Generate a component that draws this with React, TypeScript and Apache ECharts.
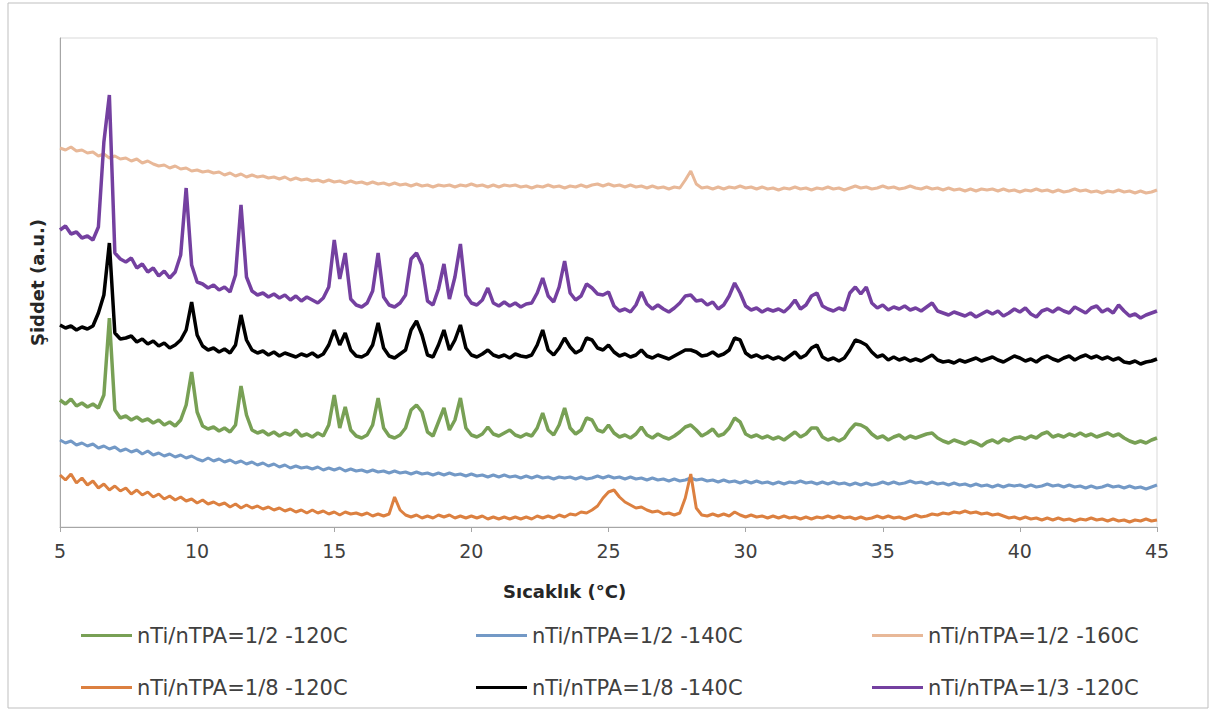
import React, { useEffect, useRef } from 'react';
import * as echarts from 'echarts';

// 2θ scan: starts at 5°, one reading every 0.2°, up to 45°
const scanStart = 5;
const scanStep = 0.2;

const seriesNames = [
  'nTi/nTPA=1/2 -120C',
  'nTi/nTPA=1/2 -140C',
  'nTi/nTPA=1/2 -160C',
  'nTi/nTPA=1/8 -120C',
  'nTi/nTPA=1/8 -140C',
  'nTi/nTPA=1/3 -120C',
];

// intensities (a.u.), one value per scan step
const ti12_120C = [
  127,123,128,121,124, 120,123,119,132,209,
  117,109,111,107,110, 106,108,104,107,102,
  105,101,107,122,155, 115,101,98,100,96,
  99,95,102,141,112, 97,94,96,92,95,
  91,94,92,97,91, 93,90,94,91,102,
  132,99,120,97,91, 89,92,102,129,99,
  91,89,92,99,117, 122,115,95,91,105,
  119,97,107,129,99, 92,90,93,100,93,
  91,94,97,92,90, 93,91,99,114,97,
  92,102,119,99,93, 97,109,107,97,95,
  102,94,90,92,89, 93,100,92,89,93,
  90,88,91,95,100, 102,97,91,94,98,
  91,93,99,109,105, 93,90,92,89,91,
  88,90,87,91,95, 90,93,99,99,90,
  87,89,86,89,97, 103,102,99,93,89,
  91,87,90,92,88, 91,89,91,93,94,
  89,86,84,87,85, 83,86,84,81,85,
  87,84,88,86,89, 90,88,91,89,93,
  95,90,92,90,93, 91,94,91,93,90,
  92,94,91,93,89, 86,84,86,84,87,
  89,
];

const ti12_140C = [
  87,84,86,82,84, 81,83,79,81,78,
  80,76,78,75,77, 73,76,72,74,71,
  73,70,72,69,71, 68,66,69,66,68,
  65,67,64,66,63, 65,62,64,61,63,
  60,62,59,61,59, 60,58,60,57,59,
  57,59,56,58,56, 57,55,57,55,56,
  54,56,54,55,53, 55,53,54,52,54,
  52,54,52,53,51, 53,51,52,50,52,
  50,52,50,51,49, 51,49,51,49,50,
  48,50,49,50,48, 50,48,49,51,49,
  51,49,50,48,50, 48,49,47,49,47,
  48,46,48,46,47, 49,47,48,46,47,
  45,47,45,46,44, 46,44,46,44,45,
  43,45,43,45,44, 46,44,45,43,45,
  43,45,43,44,42, 44,42,44,42,43,
  45,43,45,43,44, 46,44,45,43,45,
  43,44,42,44,42, 43,41,43,41,42,
  40,42,40,42,41, 42,40,42,40,41,
  43,41,42,40,42, 40,41,39,41,39,
  40,42,40,41,39, 41,39,40,38,40,
  42,
];

const ti12_160C = [
  379,377,380,376,377, 374,375,371,373,369,
  371,368,369,366,368, 364,366,363,361,362,
  359,361,358,359,356, 357,355,356,354,355,
  352,354,351,353,350, 352,350,351,349,350,
  348,350,347,349,347, 348,346,347,345,347,
  345,346,344,346,344, 345,343,345,343,344,
  342,344,342,343,341, 343,341,342,340,342,
  341,342,340,342,341, 343,341,342,340,342,
  340,342,341,342,340, 341,339,341,340,342,
  340,341,339,341,340, 342,340,342,343,341,
  343,341,342,340,342, 340,341,339,341,339,
  340,338,340,339,347, 356,343,339,340,338,
  340,338,340,339,341, 339,340,338,340,338,
  339,337,339,338,340, 338,339,337,339,338,
  340,338,339,337,339, 341,339,340,338,339,
  341,339,340,338,339, 341,339,338,340,338,
  339,337,339,337,338, 336,338,336,338,337,
  338,336,338,336,337, 335,337,336,338,336,
  337,335,337,335,336, 338,336,337,335,336,
  334,336,335,337,335, 336,334,336,334,335,
  337,
];

const ti18_120C = [
  52,47,53,44,49, 42,46,39,43,37,
  41,36,39,33,37, 32,35,30,33,28,
  31,27,30,26,28, 24,27,23,25,22,
  24,20,23,19,22, 19,21,18,20,17,
  19,16,18,15,17, 14,17,14,16,13,
  15,12,15,13,14, 12,14,11,13,11,
  13,30,17,12,10, 12,9,11,9,12,
  10,12,9,11,9, 11,9,11,8,10,
  8,10,8,10,8, 10,8,11,9,11,
  9,12,10,13,12, 15,14,17,21,29,
  35,37,30,25,22, 19,20,17,15,16,
  13,14,12,14,29, 53,19,12,11,13,
  11,13,11,15,12, 10,12,10,11,9,
  11,9,11,9,10, 8,10,8,10,9,
  11,9,11,9,10, 8,10,8,9,11,
  9,11,9,10,8, 10,12,10,11,13,
  12,14,13,15,14, 16,14,15,13,14,
  12,13,11,9,10, 8,10,8,9,7,
  9,7,9,7,8, 6,8,7,9,7,
  8,6,8,6,7, 5,7,6,8,6,
  7,
];

const ti18_140C = [
  202,199,201,197,200, 198,201,214,232,284,
  194,188,189,191,185, 188,183,186,181,184,
  179,182,187,197,225, 192,181,177,179,175,
  178,174,182,212,187, 177,174,176,172,175,
  171,174,172,170,173, 171,174,170,173,182,
  197,182,194,177,171, 170,173,182,204,179,
  171,169,173,177,197, 206,192,172,170,182,
  197,177,187,202,179, 172,170,173,177,172,
  170,172,169,173,171, 170,172,182,197,177,
  172,179,189,180,174, 177,189,187,179,177,
  182,175,171,173,170, 172,177,171,169,172,
  170,168,171,174,177, 177,175,171,172,175,
  171,173,177,189,187, 174,170,172,169,171,
  168,170,167,171,175, 169,172,179,182,170,
  167,169,166,169,177, 187,185,182,175,170,
  172,167,170,167,169, 166,168,166,169,172,
  167,165,166,164,167, 165,167,169,166,168,
  170,167,165,168,171, 169,166,168,165,169,
  171,168,166,169,171, 167,170,172,169,171,
  168,170,167,169,165, 164,166,163,165,166,
  168,
];

const ti13_120C = [
  297,301,293,295,289, 291,287,300,385,432,
  274,268,265,269,259, 263,255,259,251,256,
  249,255,272,339,262, 245,243,239,242,237,
  240,235,252,322,250, 236,232,234,230,233,
  229,232,227,231,226, 230,227,224,229,240,
  287,248,274,228,222, 220,224,236,274,230,
  222,220,224,232,268, 274,262,226,222,238,
  263,228,250,283,232, 224,222,227,239,224,
  221,225,221,224,220, 223,224,234,249,231,
  225,240,266,234,227, 231,243,239,233,232,
  235,221,216,218,215, 222,235,223,218,222,
  218,215,219,224,231, 232,226,227,222,225,
  218,222,231,244,234, 221,217,219,215,218,
  216,218,215,220,227, 218,222,231,234,221,
  218,216,219,217,234, 240,233,240,224,219,
  222,217,220,218,221, 217,219,216,220,224,
  216,214,212,215,213, 211,214,210,213,216,
  213,216,211,214,218, 215,219,213,210,216,
  218,215,219,216,214, 220,217,214,219,221,
  215,218,214,222,216, 211,213,209,212,214,
  216,
];

const seriesValues = [ti12_120C, ti12_140C, ti12_160C, ti18_120C, ti18_140C, ti13_120C];
const seriesColors = ['#78a055', '#7399c6', '#e8b898', '#dc8040', '#000000', '#7440a0'];
const seriesWidths = [3.5, 3, 3, 3, 3.5, 3.5];

const xMin = 5;
const xMax = 45;
const xInterval = 5;
const yMax = 489;

const font = '"DejaVu Sans", sans-serif';

export default function App() {
  const ref = useRef<HTMLDivElement>(null);

  useEffect(() => {
    if (!ref.current) return;
    const chart = echarts.init(ref.current, null, { renderer: 'svg' });

    const legendCols = [81, 476, 872];
    const legendRows = [636, 688];

    const option: any = {
      animation: false,
      backgroundColor: '#ffffff',
      grid: {
        left: 60,
        right: 56,
        top: 38,
        bottom: 192,
        show: true,
        borderColor: '#d9d9d9',
        borderWidth: 1,
        backgroundColor: 'transparent',
      },
      xAxis: {
        type: 'value',
        min: xMin,
        max: xMax,
        interval: xInterval,
        axisLine: { show: true, onZero: false, lineStyle: { color: '#a6a6a6', width: 1 } },
        axisTick: { show: true, length: 5, lineStyle: { color: '#a6a6a6' } },
        axisLabel: { color: '#404040', fontSize: 19, fontFamily: font, margin: 14 },
        splitLine: { show: false },
      },
      yAxis: {
        type: 'value',
        min: 0,
        max: yMax,
        name: 'Şiddet (a.u.)',
        nameLocation: 'middle',
        nameGap: 14,
        nameRotate: 90,
        nameTextStyle: { color: '#262626', fontSize: 18, fontWeight: 'bold', fontFamily: font },
        axisLine: { show: true, lineStyle: { color: '#a6a6a6', width: 1 } },
        axisTick: { show: false },
        axisLabel: { show: false },
        splitLine: { show: false },
      },
      legend: seriesNames.map((name, i) => ({
        data: [name],
        left: legendCols[i % 3],
        top: legendRows[Math.floor(i / 3)] - 11,
        icon: 'rect',
        itemWidth: 51,
        itemHeight: 3,
        padding: 0,
        selectedMode: false,
        textStyle: { color: '#404040', fontSize: 21, fontFamily: font },
      })),
      graphic: [
        {
          type: 'rect',
          shape: { x: 8, y: 3, width: 1200, height: 705 },
          style: { fill: 'none', stroke: '#bfbfbf', lineWidth: 1 },
          silent: true,
        },
        {
          type: 'text',
          left: 503,
          top: 582,
          style: {
            text: 'Sıcaklık (°C)',
            fill: '#262626',
            font: 'bold 18px "DejaVu Sans", sans-serif',
          },
        },
      ],
      series: seriesNames.map((name, i) => ({
        name,
        type: 'line',
        showSymbol: false,
        symbol: 'none',
        color: seriesColors[i],
        lineStyle: { color: seriesColors[i], width: seriesWidths[i] },
        data: seriesValues[i].map((v, k) => [+(scanStart + k * scanStep).toFixed(1), v]),
      })),
    };

    chart.setOption(option);
    return () => chart.dispose();
  }, []);

  return (
    <div
      ref={ref}
      style={{ position: 'fixed', left: 0, top: 0, width: 1213, height: 719, background: '#fff' }}
    />
  );
}
